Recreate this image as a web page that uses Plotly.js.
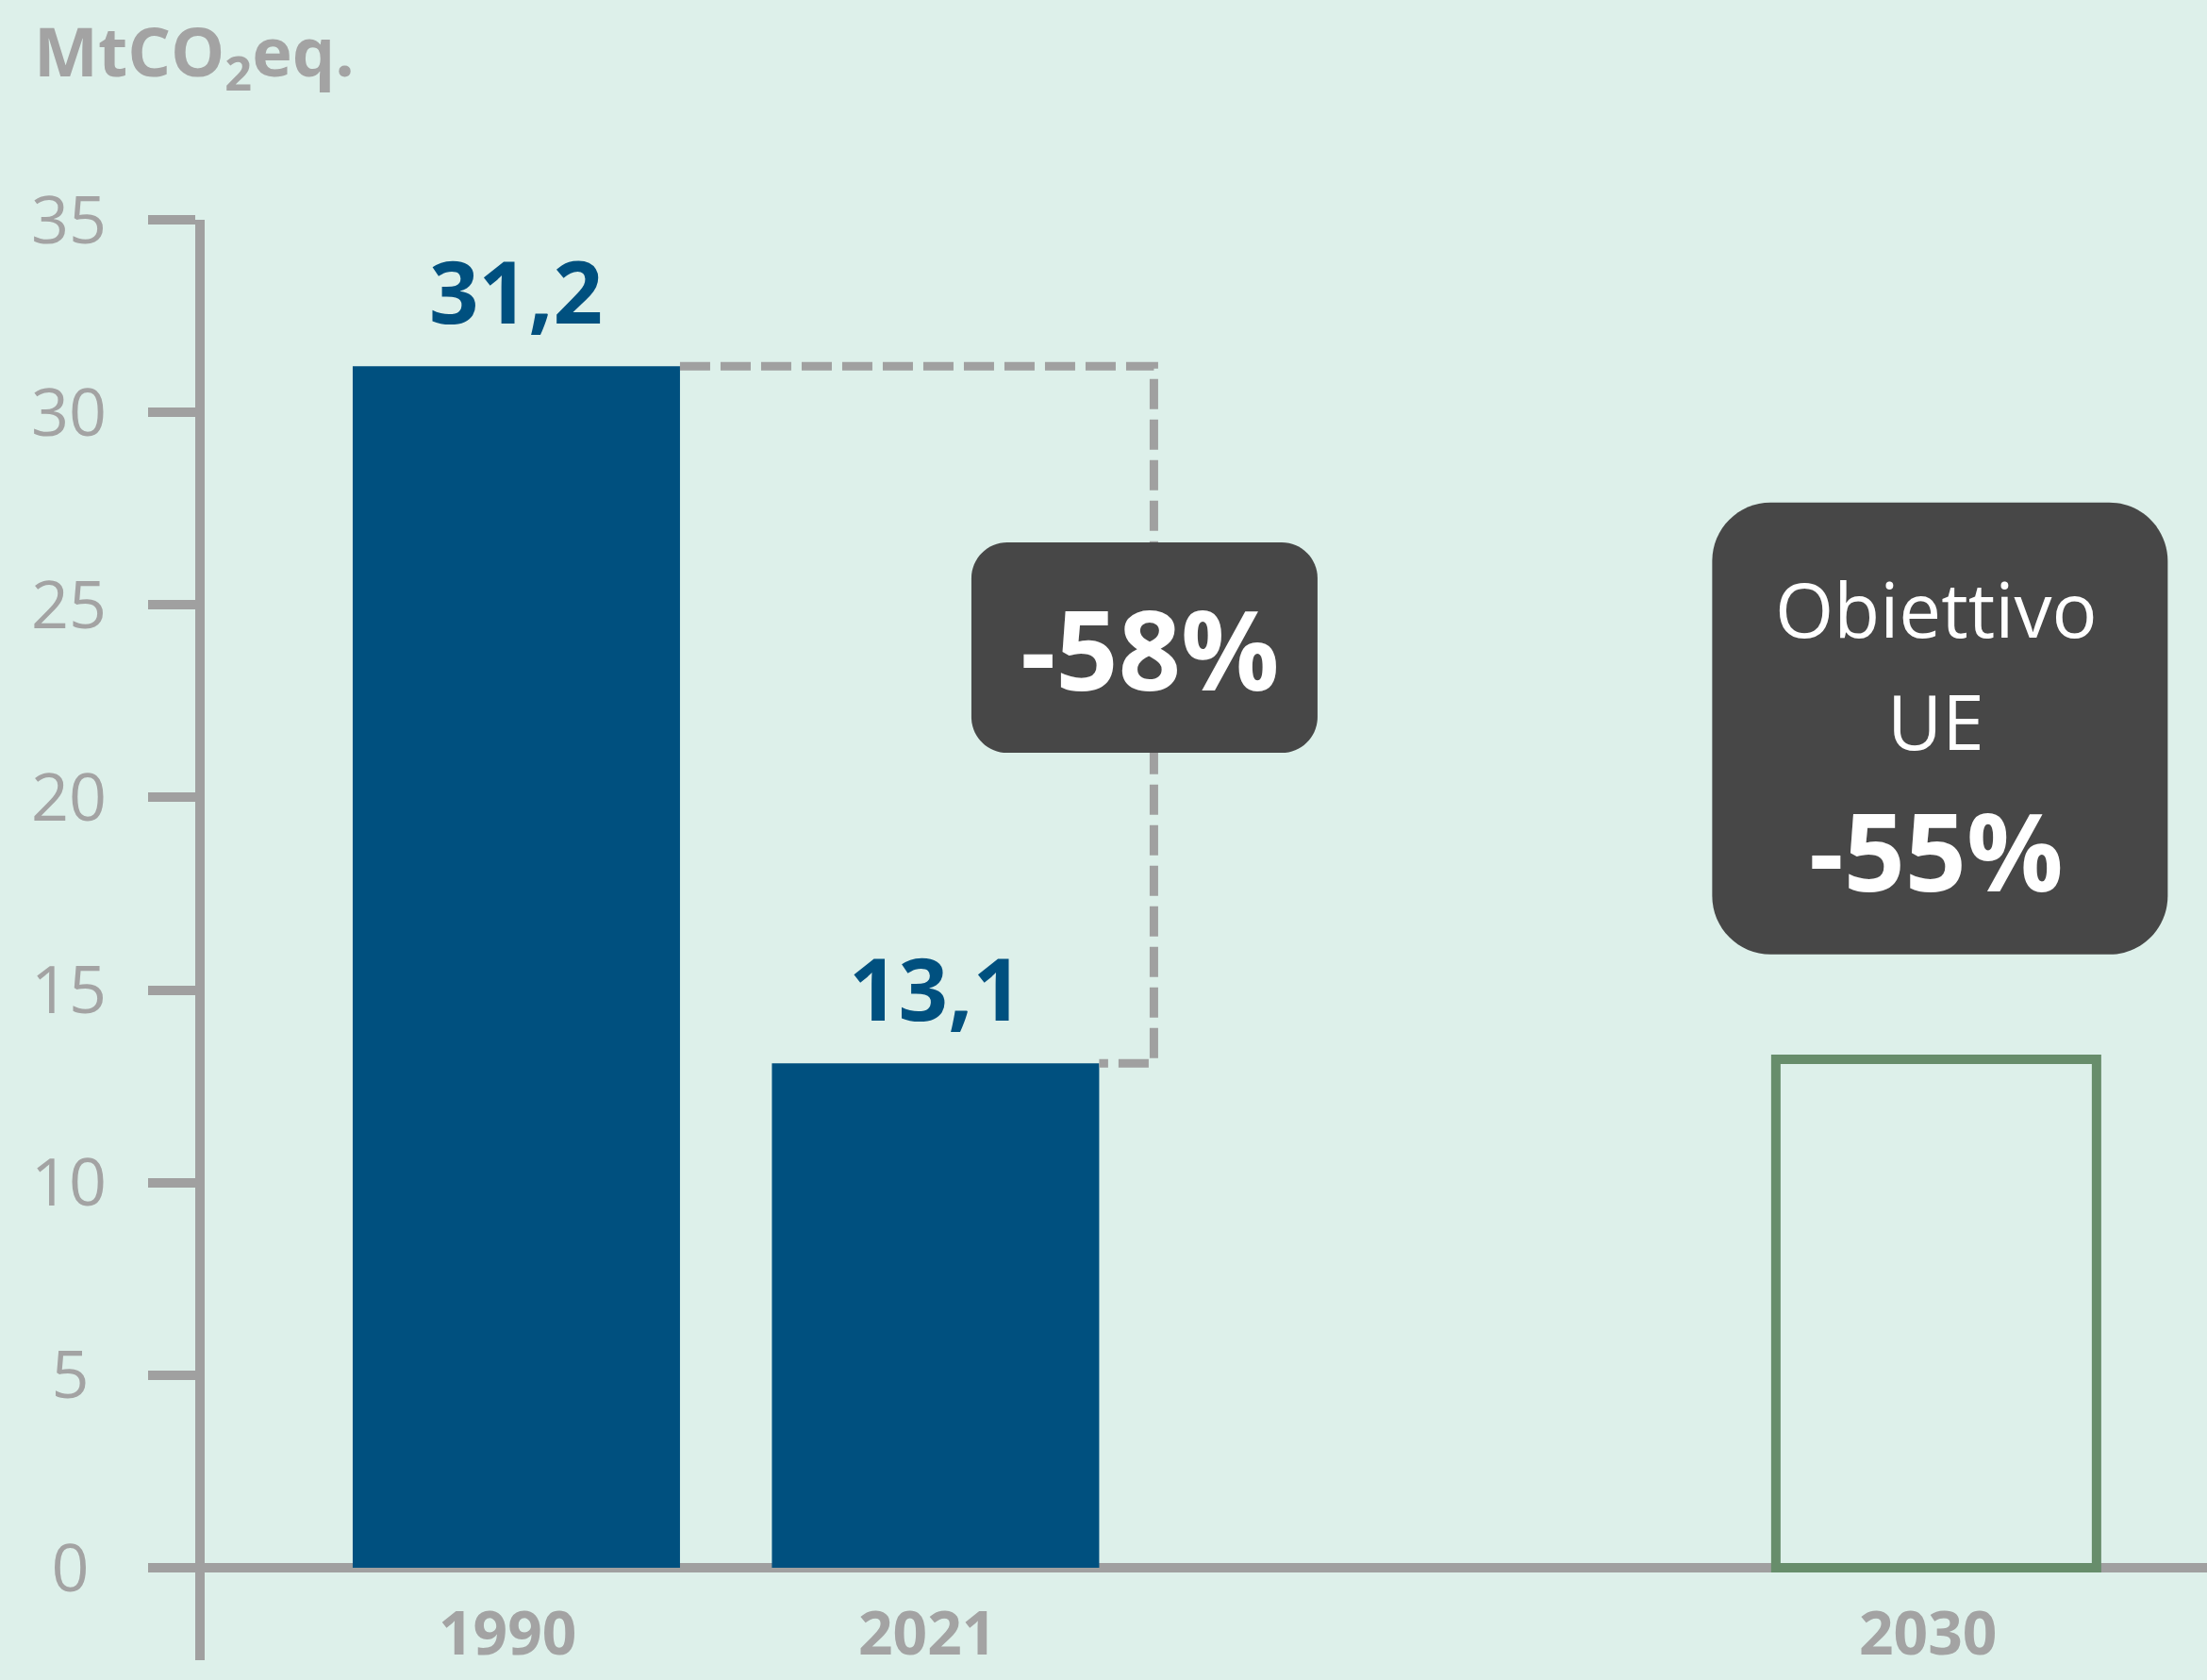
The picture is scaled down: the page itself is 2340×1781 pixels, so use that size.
<!DOCTYPE html>
<html>
<head>
<meta charset="utf-8">
<script src="https://cdn.plot.ly/plotly-3.0.1.min.js"></script>
<style>
  html, body { margin: 0; padding: 0; background: #ddf0ea; }
  #chart { width: 2340px; height: 1781px; }
</style>
</head>
<body>
<div id="chart"></div>
<script>
// ---------------- DATA ----------------
const categories = ['1990', '2021', '2030'];
const emissions = [31.2, 13.1];            // MtCO2eq. for 1990 and 2021
const emissionLabels = ['31,2', '13,1'];
const target2030 = [13.2];                  // outlined target bar (EU -55%)
const reductionLabel = '-58%';
const targetLines = ['Obiettivo', 'UE', '-55%'];
const yTickVals = [0, 5, 10, 15, 20, 25, 30, 35];
const yTickText = ['0', '5', '10', '15', '20', '25', '30', '35'];
const unitLabel = 'MtCO<sub>2</sub>eq.';

// ---------------- LAYOUT CONSTANTS ----------------
const W = 2340, H = 1781;
const M = { l: 217, r: 0, t: 233, b: 21 };
const xRange = [-0.7435, 4.033];
const yRange = [-2.4, 35];
const slotX = [0, 1, 3.387];
const pxPerX = (W - M.l - M.r) / (xRange[1] - xRange[0]);
const pxPerY = (H - M.t - M.b) / (yRange[1] - yRange[0]);

const BLUE = '#00507f';
const GRAY = '#a0a0a0';
const TXTGRAY = '#a3a3a3';
const GREEN = '#678d6b';
const DARK = '#474747';
const FONT = 'Open Sans, Lato, DejaVu Sans, sans-serif';

const barW = 347 / pxPerX;
const targetW = 340 / pxPerX;

// tick labels: pad single digit labels so they appear centred like the reference
const tickText = yTickText.map(t => t.length === 1 ? t + '\u2008' : t);

function roundRect(cx, cy, wPx, hPx, rPx) {
  const hw = wPx / 2 / pxPerX, hh = hPx / 2 / pxPerY;
  const rx = rPx / pxPerX, ry = rPx / pxPerY;
  const k = 0.5523;
  const x0 = cx - hw, x1 = cx + hw, y0 = cy - hh, y1 = cy + hh;
  return [
    'M', x0 + rx, y1,
    'L', x1 - rx, y1,
    'C', x1 - rx + k * rx, y1, x1, y1 - ry + k * ry, x1, y1 - ry,
    'L', x1, y0 + ry,
    'C', x1, y0 + ry - k * ry, x1 - rx + k * rx, y0, x1 - rx, y0,
    'L', x0 + rx, y0,
    'C', x0 + rx - k * rx, y0, x0, y0 + ry - k * ry, x0, y0 + ry,
    'L', x0, y1 - ry,
    'C', x0, y1 - ry + k * ry, x0 + rx - k * rx, y1, x0 + rx, y1,
    'Z'
  ].join(' ');
}

// ---------------- TRACES ----------------
const barsTrace = {
  type: 'bar',
  x: slotX.slice(0, 2),
  y: emissions,
  width: barW,
  marker: { color: BLUE, line: { width: 0 } },
  hoverinfo: 'skip',
  showlegend: false
};
const targetTrace = {
  type: 'bar',
  x: [slotX[2]],
  y: target2030,
  width: targetW,
  marker: { color: 'rgba(0,0,0,0)', line: { color: GREEN, width: 10 } },
  hoverinfo: 'skip',
  showlegend: false
};

// ---------------- SHAPES ----------------
const x1990Right = slotX[0] + barW / 2;
const x2021Right = slotX[1] + barW / 2;
const bracketX = x2021Right + 58 / pxPerX;

const shapes = [
  {
    type: 'path', xref: 'x', yref: 'y', layer: 'above',
    path: `M ${x1990Right} ${emissions[0]} L ${bracketX} ${emissions[0]} L ${bracketX} ${emissions[1]} L ${x2021Right} ${emissions[1]}`,
    line: { color: GRAY, width: 9, dash: '32px,11px' }
  },
  {
    type: 'path', xref: 'x', yref: 'y', layer: 'above',
    path: roundRect(bracketX - 10 / pxPerX, 23.89, 367, 223, 38),
    fillcolor: DARK, line: { width: 0 }
  },
  {
    type: 'path', xref: 'x', yref: 'y', layer: 'above',
    path: roundRect(slotX[2] + 4 / pxPerX, 21.79, 483, 479, 62),
    fillcolor: DARK, line: { width: 0 }
  }
];

// ---------------- ANNOTATIONS ----------------
const annotations = [];
emissions.forEach((v, i) => {
  annotations.push({
    x: slotX[i], y: v, xref: 'x', yref: 'y',
    text: emissionLabels[i], showarrow: false,
    xanchor: 'center', yanchor: 'bottom', yshift: 16,
    font: { family: FONT, size: 92, color: BLUE, weight: 700 }
  });
});
categories.forEach((c, i) => {
  annotations.push({
    x: slotX[i], y: -2.2, xref: 'x', yref: 'y',
    text: c, showarrow: false, xanchor: 'center', yanchor: 'middle', xshift: -9, yshift: 22,
    font: { family: FONT, size: 64, color: TXTGRAY, weight: 700 }
  });
});
annotations.push({
  x: bracketX - 4 / pxPerX, y: 23.89, xref: 'x', yref: 'y',
  text: reductionLabel, showarrow: false, xanchor: 'center', yanchor: 'middle',
  font: { family: FONT, size: 116, color: '#ffffff', weight: 700 }
});
const targetY = [24.91, 22.0, 18.66];
const targetSize = [80, 80, 114];
const targetWeight = [400, 400, 700];
targetLines.forEach((t, i) => {
  annotations.push({
    x: slotX[2], y: targetY[i], xref: 'x', yref: 'y',
    text: t, showarrow: false, xanchor: 'center', yanchor: 'middle',
    font: { family: FONT, size: targetSize[i], color: '#ffffff', weight: targetWeight[i] }
  });
});

// ---------------- LAYOUT ----------------
const layout = {
  width: W, height: H,
  margin: M,
  paper_bgcolor: '#ddf0ea',
  plot_bgcolor: 'rgba(0,0,0,0)',
  barmode: 'overlay',
  showlegend: false,
  title: {
    text: '<b>' + unitLabel + '</b>',
    xref: 'container', yref: 'container',
    x: 36 / W, xanchor: 'left',
    y: 1 - 56 / H, yanchor: 'middle',
    font: { family: FONT, size: 72, color: TXTGRAY }
  },
  xaxis: {
    range: xRange, showgrid: false, zeroline: false, showline: false,
    showticklabels: false, ticks: '', fixedrange: true
  },
  yaxis: {
    range: yRange, showgrid: false,
    zeroline: true, zerolinecolor: GRAY, zerolinewidth: 10,
    showline: true, linecolor: GRAY, linewidth: 10,
    ticks: 'outside', ticklen: 50, tickwidth: 10, tickcolor: GRAY,
    tickvals: yTickVals, ticktext: tickText,
    ticklabelstandoff: 30,
    tickfont: { family: FONT, size: 70, color: TXTGRAY },
    fixedrange: true
  },
  shapes: shapes,
  annotations: annotations
};

Plotly.newPlot('chart', [barsTrace, targetTrace], layout, { staticPlot: true, displayModeBar: false });
</script>
</body>
</html>
